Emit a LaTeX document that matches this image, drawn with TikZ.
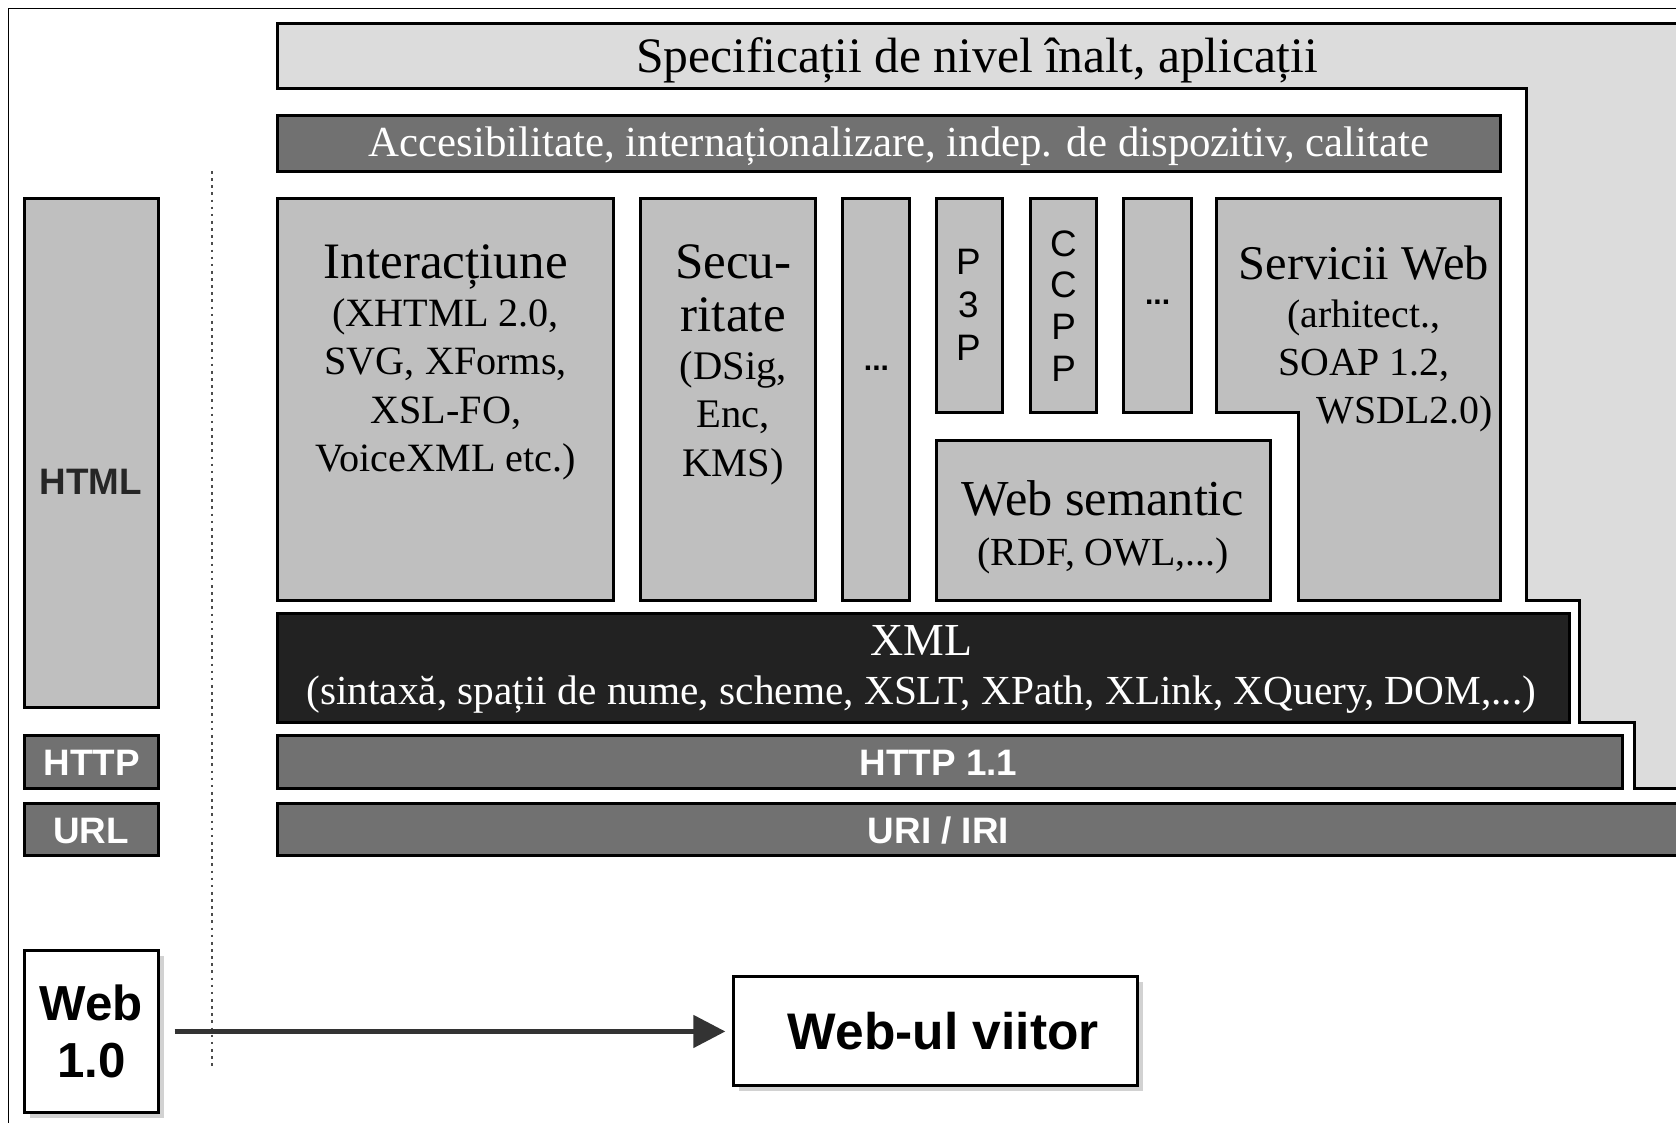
\documentclass[tikz,border=0pt]{standalone}
\usepackage{fontspec}
\setmainfont{Liberation Serif}
\setsansfont{Liberation Sans}
\usetikzlibrary{positioning}
\usetikzlibrary{arrows.meta,shadows}

\definecolor{lightbox}{HTML}{DCDCDC}
\definecolor{midbox}{HTML}{BFBFBF}
\definecolor{darkbar}{HTML}{717171}
\definecolor{xmlbar}{HTML}{222222}
\definecolor{arrowgray}{HTML}{333333}

\tikzset{
  layer/.style={draw=black, line width=0.8pt},
  lbl/.style={align=center, inner sep=0pt},
  barlbl/.style={inner sep=0pt, text=white, font=\sffamily\bfseries\fontsize{9.8}{11}\selectfont},
  webbox/.style={draw=black, line width=0.8pt, fill=white, inner sep=0pt,
    drop shadow={opacity=0.35, shadow xshift=0.5mm, shadow yshift=-0.5mm},
    font=\sffamily\bfseries},
  evolve/.style={-{Triangle[length=3mm, width=3mm]}, line width=1.3pt, draw=arrowgray, fill=arrowgray}
}

\begin{document}
\begin{tikzpicture}[x=0.1mm, y=-0.1mm]
\useasboundingbox (0,0) rectangle (1568,1050);
\fill[white] (0,0) rectangle (1568,1050);
%frame
\draw[black, line width=0.5pt] (8,1070) -- (8,8) -- (1580,8);

%high level specs
\filldraw[fill=lightbox, layer] (260,22) -- (1580,22) -- (1580,738) -- (1529,738) -- (1529,676) -- (1478,676) -- (1478,562) -- (1428,562) -- (1428,83) -- (260,83) -- cycle;
\node[lbl, font=\fontsize{13.2}{15}\selectfont] (spec) at (914,56) {Specificații de nivel înalt, aplicații};

%accessibility
\filldraw[fill=darkbar, layer] (260,108) rectangle (1404,160);
\node[lbl, text=white, font=\fontsize{11.4}{13}\selectfont] (acces) at (841,137) {Accesibilitate, internaționalizare, indep. de dispozitiv, calitate};

%columns
\filldraw[fill=midbox, layer] (260,186) rectangle (574,562);%interaction
\node[lbl, font=\fontsize{10.7}{12.8}\selectfont] (inter) at (417,339) {{\fontsize{13.6}{15}\selectfont Interacțiune}\\(XHTML 2.0,\\SVG, XForms,\\XSL-FO,\\VoiceXML etc.)};
\filldraw[fill=midbox, layer] (599,186) rectangle (763,562);%security
\node[lbl, font=\fontsize{10.8}{12.8}\selectfont] (secu) at (686,341) {{\fontsize{13.6}{15}\selectfont Secu-}\\[1.5pt]{\fontsize{13.6}{15}\selectfont ritate}\\(DSig,\\Enc,\\KMS)};
\filldraw[fill=midbox, layer] (788,186) rectangle (851,562);
\node[lbl, font=\sffamily\bfseries\fontsize{8}{9}\selectfont] (dotsa) at (820,345) {...};
\filldraw[fill=midbox, layer] (876,186) rectangle (938,386);%p3p
\node[lbl, font=\sffamily\fontsize{9.8}{11.4}\selectfont] (ppp) at (906,285) {P\\3\\P};
\filldraw[fill=midbox, layer] (964,186) rectangle (1026,386);%ccpp
\node[lbl, font=\sffamily\fontsize{9.8}{11.1}\selectfont] (ccpp) at (995,286) {C\\C\\P\\P};
\filldraw[fill=midbox, layer] (1051,186) rectangle (1115,386);
\node[lbl, font=\sffamily\bfseries\fontsize{8}{9}\selectfont] (dotsb) at (1083,283) {...};
%web services
\filldraw[fill=midbox, layer] (1138,186) -- (1404,186) -- (1404,562) -- (1215,562) -- (1215,386) -- (1138,386) -- cycle;
\node[lbl, font=\fontsize{10.6}{12.8}\selectfont] (serv) at (1276,317) {{\fontsize{12.9}{15}\selectfont Servicii Web}\\(arhitect.,\\SOAP 1.2,\\\hspace*{7.6mm}WSDL2.0)};
%semantic web
\filldraw[fill=midbox, layer] (876,412) rectangle (1189,562);
\node[lbl, font=\fontsize{10.6}{13.4}\selectfont] (websem) at (1032,493) {{\fontsize{13.4}{15}\selectfont Web semantic}\\(RDF, OWL,...)};

%xml
\filldraw[fill=xmlbar, layer] (260,574) rectangle (1468,676);
\node[lbl, text=white, font=\fontsize{11}{13.1}\selectfont] (xml) at (862,626) {{\fontsize{12.2}{14}\selectfont XML}\\(sintaxă, spații de nume, scheme, XSLT, XPath, XLink, XQuery, DOM,...)};
%http, uri
\filldraw[fill=darkbar, layer] (260,688) rectangle (1518,738);
\node[barlbl] (http11) at (878,714) {HTTP 1.1};
\filldraw[fill=darkbar, layer] (260,752) rectangle (1580,800);
\node[barlbl] (uri) at (878,777) {URI / IRI};

%web 1.0 column
\filldraw[fill=midbox, layer] (23,186) rectangle (148,662);
\node[barlbl, text=black!85] (html) at (85,451) {HTML};
\filldraw[fill=darkbar, layer] (23,688) rectangle (148,738);
\node[barlbl] (http) at (86,714) {HTTP};
\filldraw[fill=darkbar, layer] (23,752) rectangle (148,800);
\node[barlbl] (url) at (85,777) {URL};

%separator
\draw[black!70, line width=0.6pt, dash pattern=on 0.7pt off 1.2pt] (198,160) -- (198,1000);

%evolution
\node[webbox, minimum width=12.5mm, minimum height=15.2mm, align=center, font=\sffamily\bfseries\fontsize{13.1}{15}\selectfont] (web10) at (85.5,965) {Web\\1.0};
\node[webbox, minimum width=37.8mm, minimum height=10.2mm, font=\sffamily\bfseries\fontsize{13.7}{15}\selectfont] (viitor) at (875,965) {\hspace*{1.5mm}Web-ul viitor};
\draw[evolve, shorten <=1.4mm, shorten >=0.6mm] (web10) -- (viitor);

\end{tikzpicture}
\end{document}
